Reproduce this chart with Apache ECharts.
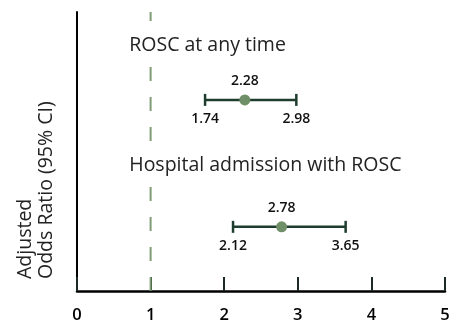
<!DOCTYPE html>
<html>
<head>
<meta charset="utf-8">
<script src="https://cdn.jsdelivr.net/npm/echarts@6/dist/echarts.min.js"></script>
<style>
html,body{margin:0;padding:0;background:#fff;}
#chart{width:449px;height:325px;}
</style>
</head>
<body>
<div id="chart"></div>
<script>
// ---- data ----
const rows = ['ROSC at any time', 'Hospital admission with ROSC'];
const oddsRatio = [2.28, 2.78];
const ciLow = [1.74, 2.12];
const ciHigh = [2.98, 3.65];
const rowY = [6.85, 2.3];      // vertical placement of each estimate on hidden scale 0..10
const titleY = [8.8, 4.5];     // vertical placement of each row heading
const titleX = 0.71;           // heading start on the odds-ratio scale
const refValue = 1;            // null line
const xTicks = [0, 1, 2, 3, 4, 5];
const yLabel = 'Adjusted\nOdds Ratio (95% CI)';

const FONT = '"Open Sans", Lato, sans-serif';
const DARK = '#1f3d2e';
const POINT = '#6f8f68';
const REF = '#7f9c74';

const chart = echarts.init(document.getElementById('chart'), null, {renderer: 'canvas'});

const option = {
  animation: false,
  backgroundColor: '#fff',
  grid: {left: 77, right: 4, top: 12, bottom: 34, containLabel: false, outerBoundsMode: 'none'},
  xAxis: {
    type: 'value', min: xTicks[0], max: xTicks[xTicks.length - 1], interval: 1,
    axisLine: {show: true, lineStyle: {color: '#000', width: 2.5}},
    axisTick: {show: true, inside: true, length: 14, lineStyle: {color: '#1b2a22', width: 2}},
    axisLabel: {color: '#000', fontSize: 16.5, fontWeight: 600, fontFamily: FONT, margin: 16},
    splitLine: {show: false}
  },
  yAxis: {
    type: 'value', min: 0, max: 10,
    axisLine: {show: true, lineStyle: {color: '#000', width: 2}},
    axisTick: {show: false}, axisLabel: {show: false}, splitLine: {show: false}
  },
  graphic: [{
    type: 'text', x: 36, y: 279, rotation: Math.PI / 2,
    style: {text: yLabel, font: '19.5px ' + FONT, fill: '#222', align: 'left', verticalAlign: 'middle', lineHeight: 21}
  }],
  series: [
    {
      type: 'line', z: 1, symbol: 'none', silent: true,
      data: [[refValue, 0], [refValue, 10]],
      lineStyle: {color: REF, width: 2, type: [14, 16]}
    },
    {
      type: 'custom', z: 3, silent: true,
      data: rows.map((r, i) => [titleX, titleY[i], r]),
      renderItem: function (params, api) {
        const p = api.coord([api.value(0), api.value(1)]);
        return {
          type: 'text', x: p[0], y: p[1],
          style: {
            text: rows[params.dataIndex], font: '19.5px ' + FONT, fill: '#222',
            align: 'left', verticalAlign: 'middle', backgroundColor: '#fff', padding: [3, 0]
          }
        };
      }
    },
    {
      type: 'custom', z: 4, silent: true,
      data: rows.map((r, i) => [ciLow[i], ciHigh[i], rowY[i]]),
      renderItem: function (params, api) {
        const lo = api.coord([api.value(0), api.value(2)]);
        const hi = api.coord([api.value(1), api.value(2)]);
        const cap = 6;
        const ls = {stroke: DARK, lineWidth: 2.5};
        const lab = (x, y, t) => ({
          type: 'text', x: x, y: y,
          style: {text: t, font: '600 14px ' + FONT, fill: '#111', align: 'center', verticalAlign: 'middle'}
        });
        return {
          type: 'group', children: [
            {type: 'line', shape: {x1: lo[0], y1: lo[1], x2: hi[0], y2: hi[1]}, style: ls},
            {type: 'line', shape: {x1: lo[0], y1: lo[1] - cap, x2: lo[0], y2: lo[1] + cap}, style: ls},
            {type: 'line', shape: {x1: hi[0], y1: hi[1] - cap, x2: hi[0], y2: hi[1] + cap}, style: ls},
            lab(lo[0], lo[1] + 19, api.value(0).toFixed(2)),
            lab(hi[0], hi[1] + 19, api.value(1).toFixed(2))
          ]
        };
      }
    },
    {
      type: 'scatter', z: 5, silent: true,
      symbolSize: 11,
      itemStyle: {color: POINT, opacity: 1},
      data: oddsRatio.map((v, i) => [v, rowY[i]]),
      label: {
        show: true, position: 'top', distance: 6,
        formatter: p => p.value[0].toFixed(2),
        fontFamily: FONT, fontSize: 14, fontWeight: 600, color: '#111'
      }
    }
  ]
};
chart.setOption(option);
</script>
</body>
</html>
